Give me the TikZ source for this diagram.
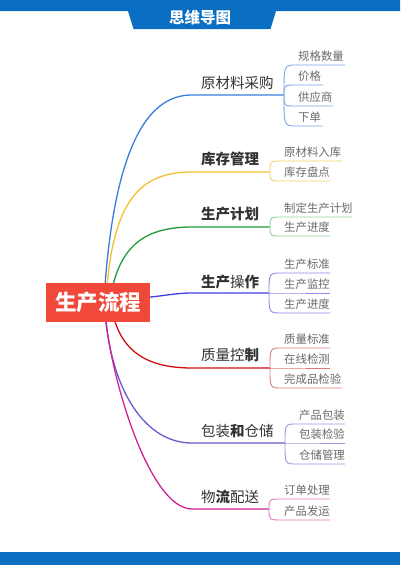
\documentclass[tikz,border=0pt]{standalone}
\usepackage{fontspec}
\setmainfont{Noto Sans CJK SC}
\newfontfamily\cjk{Noto Sans CJK SC}
\definecolor{hdrblue}{HTML}{0A6FC2}
\definecolor{rootred}{HTML}{F0483A}
\definecolor{maintext}{HTML}{333333}
\definecolor{kidgrey}{HTML}{6A6A6A}
\definecolor{cA}{HTML}{3B7DDD}\definecolor{lA}{HTML}{7AA7E8}
\definecolor{cB}{HTML}{F2C12E}\definecolor{lB}{HTML}{F5D36A}
\definecolor{cC}{HTML}{1E9E3E}\definecolor{lC}{HTML}{8ED29C}
\definecolor{cD}{HTML}{4040E0}\definecolor{lD}{HTML}{8A8AF0}
\definecolor{cE}{HTML}{D01010}\definecolor{lE}{HTML}{E07A7A}
\definecolor{cF}{HTML}{6A5ACD}\definecolor{lF}{HTML}{9E96E2}
\definecolor{cG}{HTML}{D0209A}\definecolor{lG}{HTML}{E27CC2}
\tikzset{
  mainline/.style={line width=1.3pt},
  kidline/.style={line width=0.9pt},
  maintextstyle/.style={font=\fontsize{14.5}{16}\selectfont, text=maintext, inner sep=0pt, anchor=west},
  kidtext/.style={font=\fontsize{11.4}{13}\selectfont, text=kidgrey, inner sep=0pt, anchor=west},
}
\newcommand\kid[7]{%
  \coordinate (#1s) at (#4,#5);
  \coordinate (#1e) at (#6,#5);
  \node[kidtext] (#1) at (#4+2,#5-8.5) {#7};
  \draw[kidline,#2] (#3) .. controls (#3 |- #1s) .. (#1s) -- (#1e);
}
\begin{document}
\begin{tikzpicture}[x=1pt,y=-1pt]
\useasboundingbox (0,0) rectangle (400,565);
\fill[white] (0,0) rectangle (400,565);
% header and footer
\fill[hdrblue] (0,0) -- (400,0) -- (400,11) -- (276,11) -- (270.5,29) -- (133.5,29) -- (128,11) -- (0,11) -- cycle;
\node[font=\bfseries\fontsize{15.5}{17}\selectfont, text=white, inner sep=0pt] (title) at (200,17.5) {思维导图};
\fill[hdrblue] (0,552) rectangle (400,565);

% start points (under root)
\coordinate (r1) at (104,300);
\coordinate (r2) at (106,300);
\coordinate (r3) at (110,300);
\coordinate (r4) at (140,298);
\coordinate (r5) at (112,310);
\coordinate (r6) at (105,305);
\coordinate (r7) at (104,305);
% label start points
\coordinate (s1) at (192,95);
\coordinate (s2) at (192,172);
\coordinate (s3) at (192,227);
\coordinate (s4) at (192,293);
\coordinate (s5) at (192,368);
\coordinate (s6) at (192,443);
\coordinate (s7) at (192,509);
% junctions
\coordinate (j1) at (284,95);
\coordinate (j2) at (270,172);
\coordinate (j3) at (270,227);
\coordinate (j4) at (269,293);
\coordinate (j5) at (270,368);
\coordinate (j6) at (285,443);
\coordinate (j7) at (269,509);

% main branches
\draw[mainline,cA] (r1) .. controls (115,120) and (160,95) .. (s1) -- (j1);
\draw[mainline,cB] (r2) .. controls (112,200) and (140,172) .. (s2) -- (j2);
\draw[mainline,cC] (r3) .. controls (118,250) and (140,227) .. (s3) -- (j3);
\draw[mainline,cD] (r4) .. controls (165,296) and (175,293) .. (s4) -- (j4);
\draw[mainline,cE] (r5) .. controls (120,350) and (145,368) .. (s5) -- (j5);
\draw[mainline,cF] (r6) .. controls (108,380) and (140,443) .. (s6) -- (j6);
\draw[mainline,cG] (r7) .. controls (110,380) and (150,509) .. (s7) -- (j7);

% main labels
\node[maintextstyle] (b1) at (201,82.5) {原材料采购};
\node[maintextstyle] (b2) at (201,159) {\bfseries 库存管理};
\node[maintextstyle] (b3) at (201,214) {\bfseries 生产计划};
\node[maintextstyle] (b4) at (201,282) {\textbf{生产}操\textbf{作}};
\node[maintextstyle] (b5) at (201,355) {质量控\textbf{制}};
\node[maintextstyle] (b6) at (201,431) {包装\textbf{和}仓储};
\node[maintextstyle] (b7) at (201,497) {物\textbf{流}配送};

% children
\kid{c11}{lA}{j1}{296}{65}{345}{规格数量}
\kid{c12}{lA}{j1}{296}{85}{323}{价格}
\kid{c13}{lA}{j1}{296}{106}{333}{供应商}
\kid{c14}{lA}{j1}{296}{126}{323}{下单}

\kid{c21}{lB}{j2}{282}{161}{342}{原材料入库}
\kid{c22}{lB}{j2}{282}{181}{330}{库存盘点}

\kid{c31}{lC}{j3}{282}{217}{352}{制定生产计划}
\kid{c32}{lC}{j3}{282}{236}{330}{生产进度}

\kid{c41}{lD}{j4}{282}{273}{330}{生产标准}
\kid{c42}{lD}{j4}{282}{293}{330}{生产监控}
\kid{c43}{lD}{j4}{282}{313}{330}{生产进度}

\kid{c51}{lE}{j5}{282}{348}{330}{质量标准}
\kid{c52}{lE}{j5}{282}{368}{330}{在线检测}
\kid{c53}{lE}{j5}{282}{388}{342}{完成品检验}

\kid{c61}{lF}{j6}{297}{424}{345}{产品包装}
\kid{c62}{lF}{j6}{297}{443}{345}{包装检验}
\kid{c63}{lF}{j6}{297}{464}{345}{仓储管理}

\kid{c71}{lG}{j7}{282}{499}{330}{订单处理}
\kid{c72}{lG}{j7}{282}{520}{330}{产品发运}

% root
\node[fill=rootred, minimum width=104pt, minimum height=39pt, inner sep=0pt,
      text=white, font=\bfseries\fontsize{21.5}{23}\selectfont] (root) at (98,302.5) {生产流程};
\end{tikzpicture}
\end{document}
